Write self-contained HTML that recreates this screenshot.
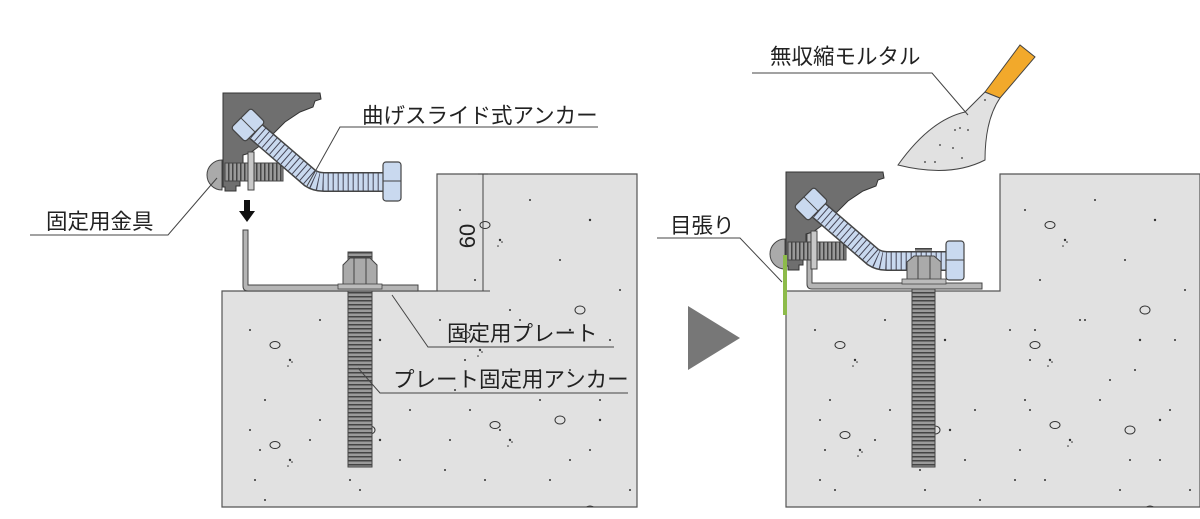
<!DOCTYPE html>
<html><head><meta charset="utf-8"><style>
html,body{margin:0;padding:0;background:#fff;overflow:hidden}
svg{display:block}
text{font-family:"Liberation Sans","Noto Sans CJK JP",sans-serif;fill:#222}
</style></head><body>
<svg width="1200" height="519" viewBox="0 0 1200 519" xmlns="http://www.w3.org/2000/svg">
<defs>
<clipPath id="cl"><path d="M222,507 L222,291 L437,291 L437,174 L637,174 L637,507 Z"/></clipPath>
<clipPath id="cr"><path d="M786,507 L786,291 L1000,291 L1000,174 L1200,174 L1200,507 Z"/></clipPath>
<pattern id="thr" width="4" height="4" patternUnits="userSpaceOnUse">
<rect width="4" height="4" fill="#9a9a9a"/><rect width="4" height="1.5" fill="#444"/></pattern>
<pattern id="thrv" width="4" height="4" patternUnits="userSpaceOnUse">
<rect width="4" height="4" fill="#9a9a9a"/><rect width="1.5" height="4" fill="#444"/></pattern>
<g id="asm">
<path d="M223,93 L320,93 L321,99 L315,101 L313,107 L300,112 L285,122 L265,142 L250,153 L243,155 L243,163 L240,163 L240,186 L236,186 L236,191 L225,191 L225,187 L223,187 Z" fill="#6f6f6f" stroke="#333" stroke-width="1"/>
<path d="M222,160 A14,14 0 0,0 222,190 Z" fill="#aaa" stroke="#444" stroke-width="1"/>
<rect x="225" y="163" width="58" height="18" fill="url(#thrv)" stroke="#444" stroke-width="1"/>
<rect x="248" y="152" width="6" height="38" fill="#c8c8c8" stroke="#444" stroke-width="1"/>
<path d="M252,128 L310,178 Q316,182 324,182 L386,182" fill="none" stroke="#444" stroke-width="20"/>
<path d="M252,128 L310,178 Q316,182 324,182 L386,182" fill="none" stroke="#c9d9ef" stroke-width="17"/>
<path d="M256,131 L310,178 Q316,182 324,182 L384,182" fill="none" stroke="#445" stroke-width="17" stroke-dasharray="1,4"/>
<g transform="translate(248,125) rotate(-45)"><rect x="-14" y="-10" width="28" height="20" rx="3" fill="#c9d9ef" stroke="#444" stroke-width="1.2"/><line x1="0" y1="-10" x2="0" y2="10" stroke="#444"/></g>
<rect x="383" y="162" width="18" height="39" rx="3" fill="#c9d9ef" stroke="#444" stroke-width="1.2"/>
<line x1="383" y1="181" x2="401" y2="181" stroke="#444"/>
</g>
<g id="dots" fill="#333">
<circle cx="20" cy="30" r="1"/><circle cx="60" cy="60" r="1.2"/><circle cx="35" cy="100" r="1"/><circle cx="90" cy="20" r="1"/>
<circle cx="120" cy="80" r="1"/><circle cx="150" cy="40" r="1.2"/><circle cx="180" cy="110" r="1"/><circle cx="30" cy="150" r="1"/>
<circle cx="80" cy="140" r="1"/><circle cx="170" cy="160" r="1"/><circle cx="130" cy="190" r="1"/><circle cx="25" cy="180" r="1"/>
<circle cx="62" cy="62" r="0.8"/><circle cx="58" cy="66" r="0.8"/>
<ellipse cx="45" cy="45" rx="5" ry="3.5" fill="none" stroke="#333"/><ellipse cx="140" cy="130" rx="5" ry="4" fill="none" stroke="#333"/>
</g>
</defs>

<path d="M222,507 L222,291 L437,291 L437,174 L637,174 L637,507 Z" fill="#e1e1e1" stroke="#555" stroke-width="1.2"/>
<g clip-path="url(#cl)">
<use href="#dots" x="230" y="300"/><use href="#dots" x="420" y="290"/><use href="#dots" x="440" y="180"/><use href="#dots" x="230" y="400"/><use href="#dots" x="450" y="380"/>
</g>
<line x1="483" y1="174" x2="483" y2="291" stroke="#444" stroke-width="1"/>
<line x1="478" y1="174" x2="488" y2="174" stroke="#444"/><line x1="478" y1="291" x2="488" y2="291" stroke="#444"/>
<line x1="437" y1="291" x2="490" y2="291" stroke="#444"/>
<text x="469" y="236" font-size="22" transform="rotate(-90 469 236)" text-anchor="middle" dominant-baseline="middle">60</text>
<rect x="348" y="252" width="24" height="215" fill="url(#thr)" stroke="#444"/>
<path d="M243,230 L248,230 L248,285 L418,285 L418,291 L248,291 Q243,291 243,286 Z" fill="#b5b5b5" stroke="#444"/>
<path d="M343,285 L343,265 L350,258 L370,258 L377,265 L377,285 Z" fill="#aaa" stroke="#444"/>
<line x1="354" y1="258" x2="354" y2="285" stroke="#444"/><line x1="366" y1="258" x2="366" y2="285" stroke="#444"/>
<rect x="338" y="284" width="44" height="5" fill="#bbb" stroke="#444" stroke-width="0.8"/>
<path d="M244,200 L250,200 L250,211 L255,211 L247,222 L239,211 L244,211 Z" fill="#111"/>
<use href="#asm"/>

<text x="362" y="123" font-size="21.5">曲げスライド式アンカー</text>
<polyline points="598,127 340,127 307,186" fill="none" stroke="#444" stroke-width="1"/>
<text x="46" y="229" font-size="21.5">固定用金具</text>
<polyline points="30,235 168,235 217,178" fill="none" stroke="#444" stroke-width="1"/>
<text x="447" y="341" font-size="21.5">固定用プレート</text>
<polyline points="614,347 428,347 392,295" fill="none" stroke="#444" stroke-width="1"/>
<text x="393" y="387" font-size="21.5">プレート固定用アンカー</text>
<polyline points="628,393 380,393 358,368" fill="none" stroke="#444" stroke-width="1"/>

<polygon points="688,306 688,370 740,338" fill="#777"/>

<path d="M786,507 L786,291 L1000,291 L1000,174 L1200,174 L1200,507 Z" fill="#e1e1e1" stroke="#555" stroke-width="1.2"/>
<g clip-path="url(#cr)">
<use href="#dots" x="795" y="300"/><use href="#dots" x="1005" y="180"/><use href="#dots" x="990" y="300"/><use href="#dots" x="800" y="390"/><use href="#dots" x="1010" y="380"/>
</g>
<rect x="912" y="283" width="23" height="184" fill="url(#thr)" stroke="#444"/>
<path d="M807,230 L812,230 L812,283 L982,283 L982,289 L812,289 Q807,289 807,284 Z" fill="#b5b5b5" stroke="#444"/>
<rect x="915" y="248" width="17" height="18" fill="url(#thr)"/>
<use href="#asm" transform="translate(563,79)"/>
<path d="M907,280 L907,262 L914,256 L934,256 L941,262 L941,280 Z" fill="#aaa" stroke="#444"/>
<line x1="918" y1="256" x2="918" y2="280" stroke="#444"/><line x1="930" y1="256" x2="930" y2="280" stroke="#444"/>
<rect x="902" y="279" width="44" height="5" fill="#bbb" stroke="#444" stroke-width="0.8"/>
<rect x="783" y="255" width="4" height="60" fill="#8dbb4a"/>
<text x="670" y="233" font-size="21.5">目張り</text>
<polyline points="657,238 740,238 782,282" fill="none" stroke="#444" stroke-width="1"/>

<path d="M898,165 Q930,120 965,112 L985,92 L1000,98 Q985,120 985,160 Q950,178 898,165 Z" fill="#e1e1e1" stroke="#444" stroke-width="1"/>
<g fill="#333"><circle cx="960" cy="128" r="0.9"/><circle cx="955" cy="130" r="0.9"/><circle cx="940" cy="145" r="0.9"/><circle cx="953" cy="148" r="0.9"/><circle cx="968" cy="130" r="0.9"/><circle cx="925" cy="162" r="0.9"/><circle cx="935" cy="162" r="0.9"/><circle cx="962" cy="158" r="0.9"/><circle cx="985" cy="100" r="0.9"/></g>
<polygon points="985,92 1020,45 1035,57 1000,98" fill="#f2a92b" stroke="#444" stroke-width="1"/>
<text x="770" y="64" font-size="21.5">無収縮モルタル</text>
<polyline points="752,73 932,73 968,115" fill="none" stroke="#444" stroke-width="1"/>
</svg>
</body></html>
